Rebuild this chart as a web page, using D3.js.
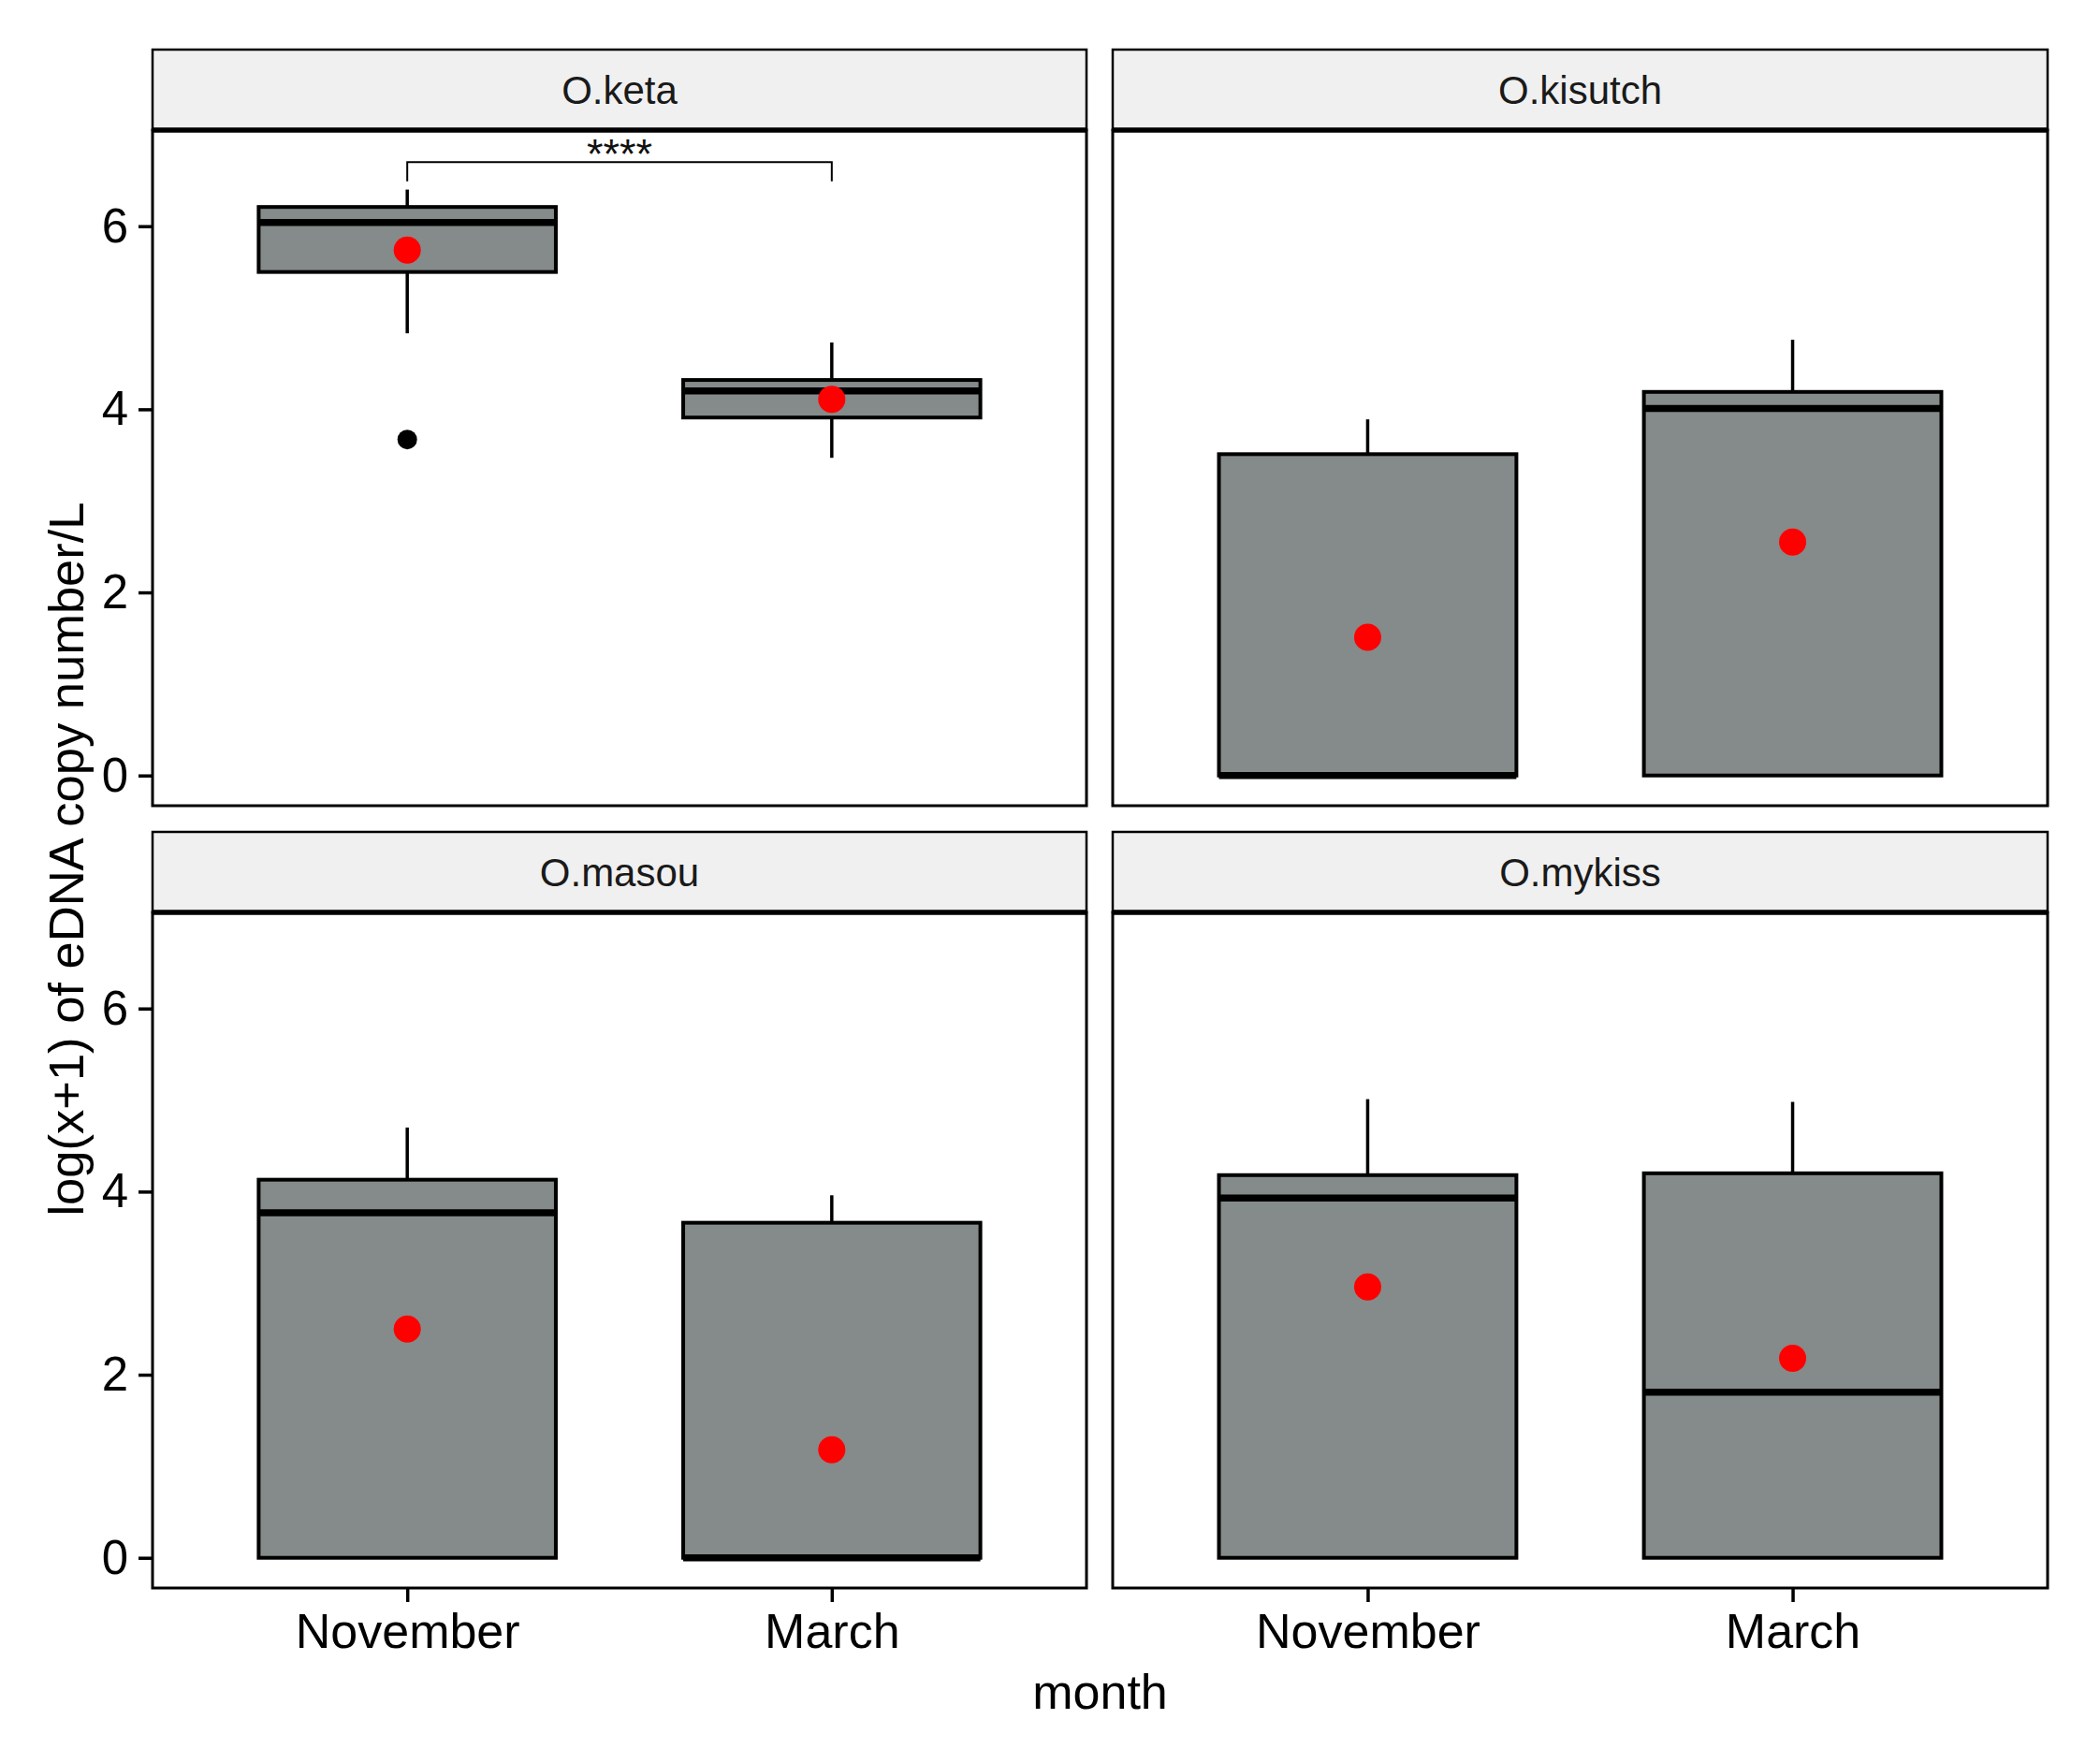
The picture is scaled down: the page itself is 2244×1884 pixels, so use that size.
<!DOCTYPE html>
<html>
<head>
<meta charset="utf-8">
<script src="https://cdn.jsdelivr.net/npm/d3@7"></script>
<style>
  html, body { margin: 0; padding: 0; background: #ffffff; }
  svg { display: block; font-family: "Liberation Sans", Arial, sans-serif; }
</style>
</head>
<body>
<script>
// ---------------- data ----------------
const species = ["O.keta", "O.kisutch", "O.masou", "O.mykiss"];
const months = ["November", "March"];
const yTicks = [0, 2, 4, 6];
// per species, [November, March]
const whiskerHigh = [[6.40, 4.73], [3.89, 4.76], [4.70, 3.96], [5.01, 4.98]];
const q3Values     = [[6.21, 4.32], [3.51, 4.19], [4.13, 3.66], [4.18, 4.20]];
const medianValues = [[6.04, 4.20], [0.00, 4.01], [3.77, 0.00], [3.93, 1.81]];
const q1Values     = [[5.50, 3.91], [0.00, 0.00], [0.00, 0.00], [0.00, 0.00]];
const whiskerLow   = [[4.83, 3.47], [0.00, 0.00], [0.00, 0.00], [0.00, 0.00]];
const meanValues   = [[5.74, 4.11], [1.51, 2.55], [2.50, 1.18], [2.96, 2.18]];
const outlierSpecies = ["O.keta"];
const outlierMonths = ["November"];
const outlierValues = [3.67];
const sigSpecies = "O.keta";
const sigLabel = "****";
const sigBracketY = 6.70;
const sigLegY = 6.49;
const yTitle = "log(x+1) of eDNA copy number/L";
const xTitle = "month";

// ---------------- layout ----------------
const W = 2244, H = 1884;
const colX = [[163, 1161], [1189, 2188]];
const rowY = [{ stripTop: 53, top: 139, bottom: 861 }, { stripTop: 889, top: 975, bottom: 1697 }];
const yDomain = [-0.33, 7.05];

const svg = d3.select("body").append("svg").attr("width", W).attr("height", H);
svg.append("rect").attr("width", W).attr("height", H).attr("fill", "#ffffff");

species.forEach((sp, i) => {
  const col = i % 2, row = Math.floor(i / 2);
  const [x0, x1] = colX[col];
  const r = rowY[row];
  const g = svg.append("g");

  const x = d3.scalePoint().domain(months).range([x0, x1]).padding(0.6);
  const y = d3.scaleLinear().domain(yDomain).range([r.bottom, r.top]);
  const boxW = x.step() * 0.7;

  // panel background
  g.append("rect").attr("x", x0).attr("y", r.top).attr("width", x1 - x0).attr("height", r.bottom - r.top)
    .attr("fill", "#ffffff");

  // significance bracket
  if (sp === sigSpecies) {
    const xa = x(months[0]), xb = x(months[1]);
    g.append("path")
      .attr("d", `M${xa},${y(sigLegY)}V${y(sigBracketY)}H${xb}V${y(sigLegY)}`)
      .attr("fill", "none").attr("stroke", "#000").attr("stroke-width", 2);
    g.append("text").attr("x", (xa + xb) / 2).attr("y", y(sigBracketY) + 7)
      .attr("text-anchor", "middle").attr("font-size", 45).attr("fill", "#111").text(sigLabel);
  }

  months.forEach((m, j) => {
    const cx = x(m);
    // whiskers
    if (whiskerHigh[i][j] > q3Values[i][j]) {
      g.append("line").attr("x1", cx).attr("x2", cx)
        .attr("y1", y(q3Values[i][j])).attr("y2", y(whiskerHigh[i][j]))
        .attr("stroke", "#000").attr("stroke-width", 3.5);
    }
    if (whiskerLow[i][j] < q1Values[i][j]) {
      g.append("line").attr("x1", cx).attr("x2", cx)
        .attr("y1", y(q1Values[i][j])).attr("y2", y(whiskerLow[i][j]))
        .attr("stroke", "#000").attr("stroke-width", 3.5);
    }
    // box
    g.append("rect").attr("x", cx - boxW / 2).attr("y", y(q3Values[i][j]))
      .attr("width", boxW).attr("height", y(q1Values[i][j]) - y(q3Values[i][j]))
      .attr("fill", "#858b8a").attr("stroke", "#000").attr("stroke-width", 4);
    // median
    g.append("line").attr("x1", cx - boxW / 2).attr("x2", cx + boxW / 2)
      .attr("y1", y(medianValues[i][j])).attr("y2", y(medianValues[i][j]))
      .attr("stroke", "#000").attr("stroke-width", 7.5);
    // outliers
    outlierValues.forEach((v, k) => {
      if (outlierSpecies[k] === sp && outlierMonths[k] === m) {
        g.append("circle").attr("cx", cx).attr("cy", y(v)).attr("r", 10.5).attr("fill", "#000");
      }
    });
    // mean
    g.append("circle").attr("cx", cx).attr("cy", y(meanValues[i][j])).attr("r", 14.5).attr("fill", "#ff0000");
  });

  // panel border
  g.append("rect").attr("x", x0).attr("y", r.top).attr("width", x1 - x0).attr("height", r.bottom - r.top)
    .attr("fill", "none").attr("stroke", "#000").attr("stroke-width", 3);

  // strip
  g.append("rect").attr("x", x0).attr("y", r.stripTop).attr("width", x1 - x0).attr("height", r.top - r.stripTop)
    .attr("fill", "#f0f0f0").attr("stroke", "#000").attr("stroke-width", 2.5);
  g.append("line").attr("x1", x0).attr("x2", x1).attr("y1", r.top).attr("y2", r.top)
    .attr("stroke", "#000").attr("stroke-width", 5.5);
  g.append("text").attr("x", (x0 + x1) / 2).attr("y", (r.stripTop + r.top) / 2)
    .attr("dy", "0.36em").attr("text-anchor", "middle").attr("font-size", 42)
    .attr("fill", "#1a1a1a").text(sp);

  // y axis
  if (col === 0) {
    const ax = g.append("g").attr("transform", `translate(${x0},0)`)
      .call(d3.axisLeft(y).tickValues(yTicks).tickSize(15).tickPadding(11).tickFormat(d3.format("d")));
    ax.select(".domain").remove();
    ax.selectAll(".tick line").attr("stroke", "#000").attr("stroke-width", 3.5);
    ax.selectAll(".tick text").attr("font-size", 51).attr("fill", "#000")
      .attr("font-family", "Liberation Sans, Arial, sans-serif");
  }
  // x axis
  if (row === 1) {
    const ax = g.append("g").attr("transform", `translate(0,${r.bottom})`)
      .call(d3.axisBottom(x).tickSize(15).tickPadding(12));
    ax.select(".domain").remove();
    ax.selectAll(".tick line").attr("stroke", "#000").attr("stroke-width", 3.5);
    ax.selectAll(".tick text").attr("font-size", 52).attr("fill", "#000")
      .attr("font-family", "Liberation Sans, Arial, sans-serif");
  }
});

// axis titles
svg.append("text").attr("x", (colX[0][0] + colX[1][1]) / 2).attr("y", 1826)
  .attr("text-anchor", "middle").attr("font-size", 52).attr("fill", "#000").text(xTitle);
svg.append("text").attr("transform", `translate(89,${(rowY[0].top + rowY[1].bottom) / 2}) rotate(-90)`)
  .attr("text-anchor", "middle").attr("font-size", 52.5).attr("fill", "#000").text(yTitle);
</script>
</body>
</html>
